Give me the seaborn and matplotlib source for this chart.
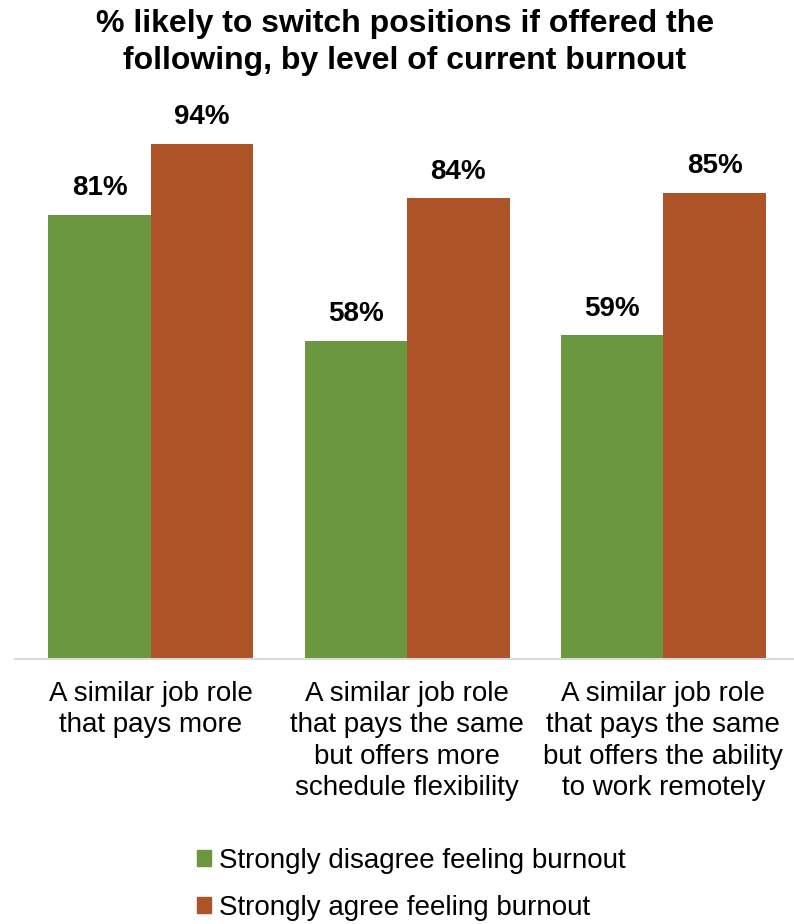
import pandas as pd
import numpy as np
import seaborn as sns
import matplotlib.pyplot as plt

categories = ["A similar job role\nthat pays more",
              "A similar job role\nthat pays the same\nbut offers more\nschedule flexibility",
              "A similar job role\nthat pays the same\nbut offers the ability\nto work remotely"]
groups = ["Strongly disagree feeling burnout", "Strongly agree feeling burnout"]
disagree = [81, 58, 59]
agree = [94, 84, 85]
colors = ["#6A973F", "#AE5228"]

df = pd.DataFrame({"option": categories * 2,
                   "group": [groups[0]] * 3 + [groups[1]] * 3,
                   "pct": disagree + agree})

sns.set_theme(style="white")
plt.rcParams["font.family"] = ["Liberation Sans", "DejaVu Sans"]
plt.rcParams["text.color"] = "black"
plt.rcParams["xtick.color"] = "black"

fig = plt.figure(figsize=(7.94, 9.24), dpi=100)
ax = fig.add_axes([0.019, 0.287, 0.981, 0.605])

sns.barplot(data=df, x="option", y="pct", hue="group", palette=colors,
            width=0.8, saturation=1, linewidth=0, ax=ax, legend=False)

for cont in ax.containers:
    ax.bar_label(cont, labels=[f"{v:.0f}%" for v in cont.datavalues],
                 padding=10, fontsize=20, fontweight="bold")

ax.set_ylim(0, 102)
ax.set_xlim(-0.53, 2.51)
ax.set_xlabel("")
ax.set_ylabel("")
ax.set_yticks([])
ax.tick_params(axis="x", length=0, pad=16, labelsize=20)
for lab in ax.get_xticklabels():
    lab.set_linespacing(1.27)
for s in ["top", "right", "left"]:
    ax.spines[s].set_visible(False)
ax.spines["bottom"].set_color("#D9D9D9")
ax.spines["bottom"].set_linewidth(1.5)

fig.suptitle("% likely to switch positions if offered the\nfollowing, by level of current burnout",
             x=0.51, y=0.99, fontsize=23, fontweight="bold", linespacing=1.3)

handles = [plt.Rectangle((0, 0), 1, 1, color=c) for c in colors]
fig.legend(handles, groups, loc="center", bbox_to_anchor=(0.518, 0.043),
           frameon=False, fontsize=20, handlelength=0.5, handleheight=0.5,
           handletextpad=0.3, labelspacing=0.75, borderaxespad=0, borderpad=0)

fig.savefig("out.png", dpi=100)
